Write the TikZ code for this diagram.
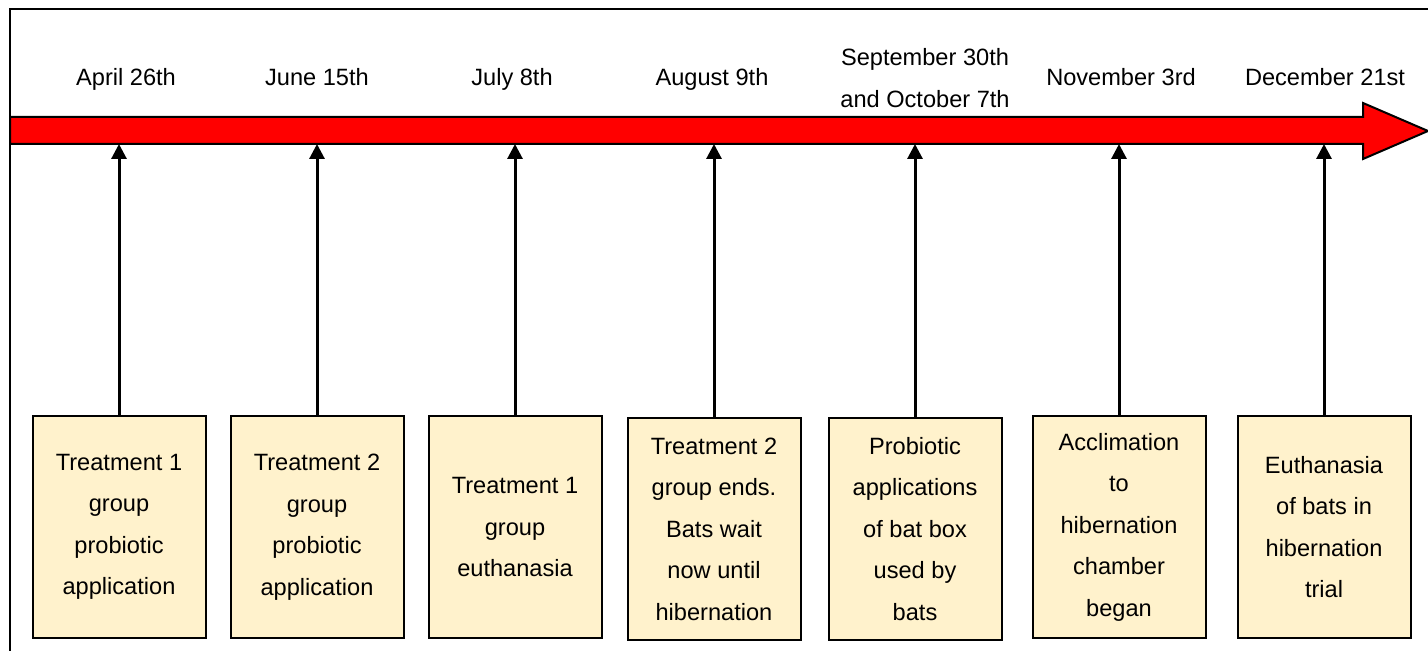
\documentclass[tikz,border=0pt]{standalone}
\usepackage{fontspec}
\setmainfont{Liberation Sans}
\usetikzlibrary{arrows.meta}
\definecolor{eventfill}{RGB}{255,242,204}
\definecolor{timered}{RGB}{255,0,0}

\tikzstyle{every node}=[font={\fontsize{11.8}{20.75}\selectfont}, align=center, inner sep=0pt]
\tikzstyle{date}=[anchor=base]
\tikzstyle{event}=[draw=black, line width=1pt, fill=eventfill, minimum width=86.5pt, minimum height=111pt]
\tikzstyle{tick}=[line width=1.5pt, -{Triangle[length=7.5pt,width=7.5pt]}]
\tikzstyle{timeline}=[draw=black, line width=1pt, fill=timered]

\begin{document}
\begin{tikzpicture}[x=0.5pt, y=-0.5pt]
    \useasboundingbox (0,0) rectangle (1428,651);
    \clip (0,0) rectangle (1428,651);

    % frame
    \draw [line width=1pt] (10,700) -- (10,9) -- (1500,9);

    % time axis
    \draw [timeline] (10,117) -- (1363,117) -- (1363,103) -- (1428,131)
        -- (1363,159) -- (1363,144) -- (10,144) -- cycle;
    \coordinate (axis) at (0,144);

    % dates
    \node [date] (d1) at (126,86) {April 26th};
    \node [date] (d2) at (317,86) {June 15th};
    \node [date] (d3) at (512,86) {July 8th};
    \node [date] (d4) at (712,86) {August 9th};
    \node (d5) at (925,78) {September 30th\\and October 7th};
    \node [date] (d6) at (1121,86) {November 3rd};
    \node [date] (d7) at (1325,86) {December 21st};

    % events
    \node [event] (e1) at (119,527) {Treatment 1\\group\\probiotic\\application};
    \node [event] (e2) at (317,527) {Treatment 2\\group\\probiotic\\application};
    \node [event] (e3) at (515,527) {Treatment 1\\group\\euthanasia};
    \node [event] (e4) at (714,529) {Treatment 2\\group ends.\\Bats wait\\now until\\hibernation};
    \node [event] (e5) at (915,529) {Probiotic\\applications\\of bat box\\used by\\bats};
    \node [event] (e6) at (1119,527) {Acclimation\\to\\hibernation\\chamber\\began};
    \node [event] (e7) at (1324,527) {Euthanasia\\of bats in\\hibernation\\trial};

    \foreach \e in {e1,e2,e3,e4,e5,e6,e7}
        \draw [tick] (\e.north) -- (\e.north |- axis);
\end{tikzpicture}
\end{document}
